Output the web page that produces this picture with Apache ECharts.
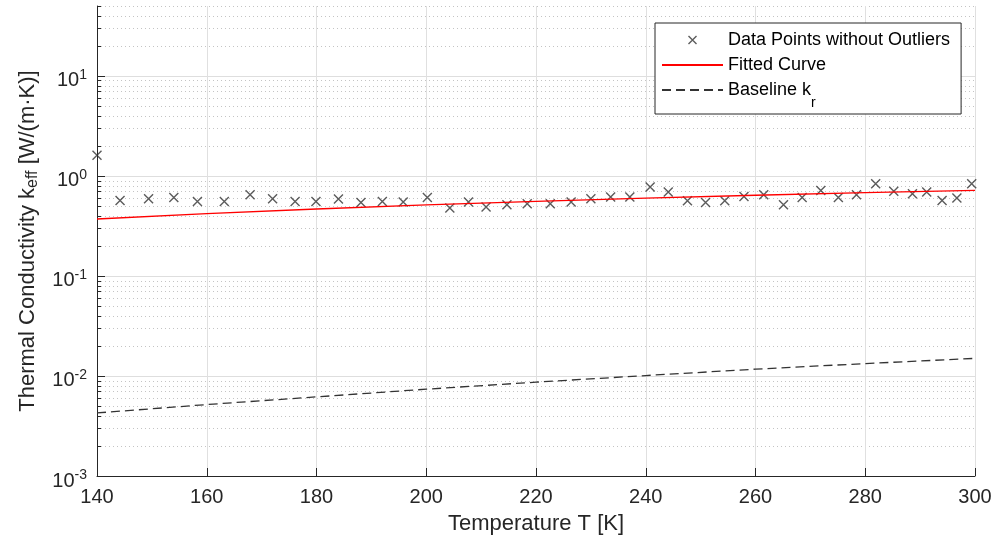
<!DOCTYPE html>
<html>
<head>
<meta charset="utf-8">
<script src="https://cdn.jsdelivr.net/npm/echarts@6/dist/echarts.min.js"></script>
<style>
html,body{margin:0;padding:0;background:#fff;}
#chart{width:995px;height:545px;}
</style>
</head>
<body>
<div id="chart"></div>
<script>
// ---------- data ----------
var pointTemps = [140.0,144.2,149.4,154.0,158.3,163.2,167.9,172.0,176.1,179.9,184.0,188.1,192.0,195.8,200.2,204.3,207.7,210.9,214.7,218.4,222.6,226.4,230.0,233.6,237.1,240.8,244.1,247.6,250.9,254.4,257.9,261.5,265.1,268.5,271.9,275.1,278.4,281.9,285.2,288.6,291.2,294.0,296.7,299.4];
var pointK = [1.61,0.569,0.592,0.610,0.556,0.556,0.649,0.592,0.556,0.556,0.588,0.544,0.556,0.548,0.610,0.478,0.548,0.489,0.516,0.528,0.528,0.548,0.592,0.616,0.616,0.776,0.691,0.566,0.544,0.566,0.624,0.649,0.516,0.610,0.717,0.610,0.649,0.837,0.701,0.665,0.691,0.569,0.602,0.837];
var curveTemps = [140,160,180,200,220,240,260,280,300];
var fittedK = [0.371,0.419,0.467,0.514,0.558,0.600,0.641,0.680,0.717];
var baselineK = [0.00427,0.00518,0.00618,0.00738,0.00867,0.0101,0.0117,0.0133,0.0150];
var xTickMin = 140, xTickMax = 300, xTickStep = 20;
var yMin = 0.001, yMax = 50;
var yMajorTicks = [0.001,0.01,0.1,1,10];
var yMinorTicks = [0.002,0.003,0.004,0.005,0.006,0.007,0.008,0.009,
                   0.02,0.03,0.04,0.05,0.06,0.07,0.08,0.09,
                   0.2,0.3,0.4,0.5,0.6,0.7,0.8,0.9,
                   2,3,4,5,6,7,8,9,
                   20,30,40,50];
var seriesNames = ['Data Points without Outliers','Fitted Curve','Baseline k_r'];
var xTitle = 'Temperature T [K]';

// ---------- build ----------
var FONT = 'Liberation Sans, Arial, Helvetica, sans-serif';
var AX = '#262626';
function zip(a, b){ var r=[]; for (var i=0;i<a.length;i++) r.push([a[i], b[i]]); return r; }
var gridData = [];
yMajorTicks.forEach(function(v){ gridData.push([xTickMin, v, 1]); });
yMinorTicks.forEach(function(v){ gridData.push([xTickMin, v, 0]); });

function renderGrid(params, api){
  var cs = params.coordSys;
  var v = api.value(1), major = api.value(2);
  var y = Math.round(api.coord([xTickMin, v])[1]) + 0.5;
  var x0 = cs.x, x1 = cs.x + cs.width;
  var children = [];
  if (major) {
    children.push({type:'line', shape:{x1:x0, y1:y, x2:x1, y2:y}, style:{stroke:'#dedede', lineWidth:1}});
  } else {
    children.push({type:'line', shape:{x1:x0, y1:y, x2:x1, y2:y}, style:{stroke:'#c4c4c4', lineWidth:1, lineDash:[1,3]}});
  }
  children.push({type:'line', shape:{x1:x0, y1:y, x2:x0 + (major ? 8 : 4), y2:y}, style:{stroke:AX, lineWidth:1}});
  return {type:'group', children: children};
}

var xMark = 'path://M0,0L1,1M1,0L0,1';
var hiddenSymbol = {color:'rgba(0,0,0,0)', borderWidth:0, opacity:0};

var option = {
  animation: false,
  backgroundColor: '#ffffff',
  grid: {left:97, right:20, top:6, bottom:69, containLabel:false},
  xAxis: {
    type:'value', min:xTickMin, max:xTickMax, interval:xTickStep,
    axisLine:{show:true, onZero:false, lineStyle:{color:AX, width:1}},
    axisTick:{show:true, inside:true, length:8, lineStyle:{color:AX}},
    axisLabel:{color:AX, fontSize:20, fontFamily:FONT, margin:11, lineHeight:20},
    splitLine:{show:true, lineStyle:{color:'#e0e0e0', width:1}},
    name: xTitle, nameLocation:'middle', nameGap:33,
    nameTextStyle:{color:AX, fontSize:22, fontFamily:FONT, lineHeight:24}
  },
  yAxis: {
    type:'log', logBase:10, min:yMin, max:yMax,
    axisLine:{show:true, lineStyle:{color:AX, width:1}},
    axisTick:{show:false},
    splitLine:{show:false},
    axisLabel:{
      margin:10,
      formatter:function(v){
        var e = Math.log10(v);
        if (Math.abs(e - Math.round(e)) > 1e-6) return '';
        return '{b|10}{s|' + Math.round(e) + '}';
      },
      rich:{
        b:{fontSize:20, lineHeight:20, padding:[10,0,0,0], color:AX, fontFamily:FONT},
        s:{fontSize:14, lineHeight:14, padding:[0,0,2,0], color:AX, fontFamily:FONT}
      }
    },
    name:'{t|Thermal Conductivity k}{s|eff}{t| [W/(m·K)]}',
    nameLocation:'middle', nameGap:57,
    nameTextStyle:{
      color:AX, fontSize:22, fontFamily:FONT,
      rich:{
        t:{fontSize:22, lineHeight:24, color:AX, fontFamily:FONT},
        s:{fontSize:16, lineHeight:16, padding:[5,0,-5,0], color:AX, fontFamily:FONT}
      }
    }
  },
  legend: {
    orient:'vertical', left:655, top:23,
    padding:[7,11,4,6], itemGap:5, itemWidth:61, itemHeight:8,
    backgroundColor:'#ffffff', borderColor:AX, borderWidth:1, borderRadius:0,
    textStyle:{fontSize:18, lineHeight:20, color:'#000', fontFamily:FONT,
      rich:{ r:{fontSize:14, lineHeight:14, padding:[13,0,-13,0], color:'#000', fontFamily:FONT} }
    },
    formatter:function(name){
      if (name === seriesNames[2]) return 'Baseline k{r|r}';
      return name;
    },
    data:[
      {name:seriesNames[0], itemStyle:{color:'rgba(0,0,0,0)', borderColor:'#333', borderWidth:1.4}},
      {name:seriesNames[1], itemStyle:hiddenSymbol},
      {name:seriesNames[2], itemStyle:hiddenSymbol}
    ]
  },
  series: [
    {
      type:'custom', name:'grid', z:-1, silent:true,
      renderItem: renderGrid, data: gridData
    },
    {
      type:'scatter', name:seriesNames[0],
      data: zip(pointTemps, pointK),
      symbol: xMark, symbolSize:9,
      itemStyle:{color:'rgba(0,0,0,0)', borderColor:'#333', borderWidth:1.4},
      z:3
    },
    {
      type:'line', name:seriesNames[1],
      data: zip(curveTemps, fittedK),
      symbol:'none', showSymbol:false,
      lineStyle:{color:'#ff0000', width:1.3},
      itemStyle:{color:'#ff0000'},
      z:4
    },
    {
      type:'line', name:seriesNames[2],
      data: zip(curveTemps, baselineK),
      symbol:'none', showSymbol:false,
      lineStyle:{color:'#333', width:1.3, type:[9,5]},
      itemStyle:{color:'#333'},
      z:4
    }
  ]
};
var chart = echarts.init(document.getElementById('chart'), null, {renderer:'canvas'});
chart.setOption(option);
</script>
</body>
</html>
